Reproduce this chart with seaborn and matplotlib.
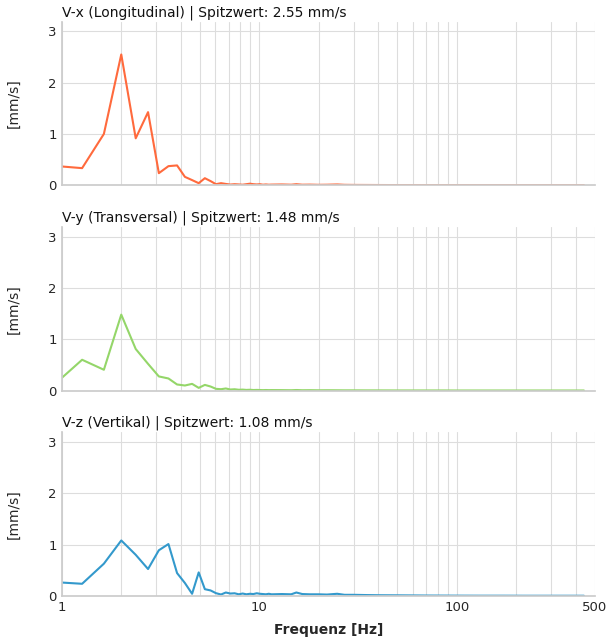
import numpy as np
import pandas as pd
import matplotlib
matplotlib.use("Agg")
import matplotlib.pyplot as plt
from matplotlib.ticker import FixedLocator, FixedFormatter, LogLocator, NullFormatter
import seaborn as sns

# frequency bins (Hz), low range read bin by bin, tail read coarsely
freq = [0.9, 1.267, 1.633, 2.0, 2.367, 2.733, 3.1, 3.467, 3.833, 4.2,
        4.567, 4.933, 5.3, 5.667, 6.033, 6.4, 6.767, 7.133, 7.5, 7.867,
        8.233, 8.6, 8.967, 9.333, 9.7, 10.067, 10.433, 10.8, 11.167, 11.533,
        13, 14.5, 15.4, 16.5, 18, 20, 22, 24.8, 27, 30,
        35, 40, 50, 60, 70, 85, 100, 130, 170, 220,
        300, 380, 440]

vx = [0.38, 0.333, 1.0, 2.55, 0.915, 1.425, 0.235, 0.372, 0.386, 0.163,
      0.10, 0.04, 0.137, 0.08, 0.02, 0.04, 0.025, 0.013, 0.02, 0.015,
      0.01, 0.02, 0.03, 0.02, 0.015, 0.02, 0.01, 0.015, 0.01, 0.012,
      0.015, 0.01, 0.02, 0.01, 0.012, 0.008, 0.01, 0.015, 0.008, 0.006,
      0.005, 0.004, 0.003, 0.003, 0.002, 0.002, 0.002, 0.001, 0.001, 0.001,
      0.001, 0.001, 0.001]

vy = [0.09, 0.60, 0.405, 1.48, 0.81, 0.52, 0.275, 0.235, 0.118, 0.098,
      0.13, 0.052, 0.11, 0.078, 0.033, 0.026, 0.04, 0.02, 0.025, 0.015,
      0.018, 0.012, 0.015, 0.01, 0.012, 0.01, 0.008, 0.01, 0.008, 0.009,
      0.008, 0.006, 0.01, 0.006, 0.007, 0.005, 0.006, 0.005, 0.004, 0.004,
      0.003, 0.003, 0.002, 0.002, 0.002, 0.002, 0.001, 0.001, 0.001, 0.001,
      0.001, 0.001, 0.001]

vz = [0.27, 0.235, 0.627, 1.08, 0.80, 0.523, 0.889, 1.01, 0.444, 0.25,
      0.04, 0.457, 0.13, 0.105, 0.052, 0.026, 0.065, 0.045, 0.05, 0.03,
      0.045, 0.03, 0.04, 0.035, 0.05, 0.04, 0.035, 0.03, 0.04, 0.03,
      0.035, 0.03, 0.065, 0.035, 0.03, 0.03, 0.025, 0.04, 0.02, 0.02,
      0.015, 0.012, 0.01, 0.008, 0.006, 0.005, 0.004, 0.003, 0.003, 0.002,
      0.002, 0.002, 0.002]

titles = ["V-x (Longitudinal)", "V-y (Transversal)", "V-z (Vertikal)"]
colors = ["#ff6a3d", "#94d669", "#3399cc"]
xtick_vals = [1, 10, 100, 500]
xtick_labels = ["1", "10", "100", "500"]

sns.set_theme(style="whitegrid")
plt.rcParams["font.family"] = ["DejaVu Sans"]
plt.rcParams["grid.color"] = "#dddddd"
plt.rcParams["axes.edgecolor"] = "#cccccc"

df = pd.DataFrame({"freq": freq, "V-x": vx, "V-y": vy, "V-z": vz})
peak_max = max(max(vx), max(vy), max(vz))

fig, axes = plt.subplots(3, 1, figsize=(6.12, 6.4), dpi=100, sharex=True, sharey=True)
fig.subplots_adjust(left=0.101, right=0.972, top=0.966, bottom=0.069, hspace=0.256)

for ax, col, title, color in zip(axes, ["V-x", "V-y", "V-z"], titles, colors):
    sns.lineplot(data=df, x="freq", y=col, ax=ax, color=color, linewidth=1.5)
    ax.set_xscale("log")
    ax.set_title(f"{title} | Spitzwert: {df[col].max():.2f} mm/s", loc="left",
                 fontsize=10, pad=4, color="#111111")
    ax.set_ylabel("[mm/s]", fontsize=10, labelpad=20)
    ax.set_xlabel("")
    ax.grid(which="minor", axis="x", color="#dddddd", linewidth=0.8)
    ax.grid(which="major", color="#dddddd", linewidth=0.8)
    ax.tick_params(axis="both", labelsize=9.5, length=0)
    ax.tick_params(which="minor", length=0)
    sns.despine(ax=ax)

axes[0].set_xlim(1, 500)
axes[0].set_ylim(0, peak_max * 1.25)
axes[0].set_yticks([0, 1, 2, 3])
axes[-1].xaxis.set_major_locator(FixedLocator(xtick_vals))
axes[-1].xaxis.set_major_formatter(FixedFormatter(xtick_labels))
axes[-1].xaxis.set_minor_locator(LogLocator(base=10, subs=np.arange(2, 10)))
axes[-1].xaxis.set_minor_formatter(NullFormatter())
axes[-1].set_xlabel("Frequenz [Hz]", fontsize=10, fontweight="bold", labelpad=7)

fig.savefig("out.png", dpi=100)
